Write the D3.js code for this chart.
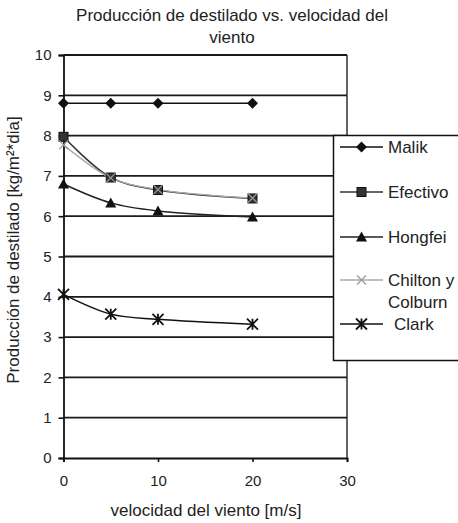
<!DOCTYPE html>
<html>
<head>
<meta charset="utf-8">
<script src="https://cdn.jsdelivr.net/npm/d3@7"></script>
<style>
  body { margin: 0; background: #fff; }
  svg { display: block; font-family: "Liberation Sans", Arial, sans-serif; }
</style>
</head>
<body>
<svg id="chart" width="458" height="523"></svg>
<script>
// Wind speed [m/s]
const velocidad = [0, 5, 10, 20];
// Distillate production [kg/m²*dia] per model
const malik = [8.8, 8.8, 8.8, 8.8];
const efectivo = [7.97, 6.96, 6.65, 6.44];
const hongfei = [6.8, 6.33, 6.13, 5.98];
const chilton = [7.77, 6.95, 6.66, 6.45];
const clark = [4.06, 3.57, 3.44, 3.32];

const xTicks = [0, 10, 20, 30];
const yTicks = [0, 1, 2, 3, 4, 5, 6, 7, 8, 9, 10];

const seriesNames = ["Malik", "Efectivo", "Hongfei", "Chilton y Colburn", "Clark"];
const seriesValues = [malik, efectivo, hongfei, chilton, clark];

const styles = {
  "Malik": { stroke: "#111", marker: "diamond", fill: "#111" },
  "Efectivo": { stroke: "#333", marker: "square", fill: "#333" },
  "Hongfei": { stroke: "#222", marker: "triangle", fill: "#111" },
  "Chilton y Colburn": { stroke: "#aaa", marker: "cross", fill: "#999" },
  "Clark": { stroke: "#111", marker: "asterisk", fill: "#111" }
};

const svg = d3.select("#chart");
const x = d3.scaleLinear().domain([0, 30]).range([63.5, 347]);
const y = d3.scaleLinear().domain([0, 10]).range([458, 55]);

// Horizontal gridlines
svg.append("g").selectAll("line").data(yTicks.filter(d => d > 0)).join("line")
  .attr("x1", x(0)).attr("x2", x(30))
  .attr("y1", d => y(d)).attr("y2", d => y(d))
  .attr("stroke", "#1a1a1a").attr("stroke-width", 1.8);

// Axes
const yAxis = d3.axisLeft(y).tickValues(yTicks).tickSize(5).tickPadding(7);
const gy = svg.append("g").attr("transform", `translate(${x(0)},0)`).call(yAxis);
const xAxis = d3.axisBottom(x).tickValues(xTicks).tickSize(4).tickPadding(13);
const gx = svg.append("g").attr("transform", `translate(0,${y(0)})`).call(xAxis);
[gx, gy].forEach(g => {
  g.select(".domain").attr("stroke", "#111").attr("stroke-width", 1.8);
  g.selectAll(".tick line").attr("stroke", "#111").attr("stroke-width", 1.6);
  g.selectAll("text").attr("fill", "#222").style("font-size", "15px")
    .style("font-family", '"Liberation Sans", Arial, sans-serif');
});
// Right border of plot area
svg.append("line").attr("x1", x(30)).attr("x2", x(30)).attr("y1", y(10)).attr("y2", y(0))
  .attr("stroke", "#222").attr("stroke-width", 1.4);

// Marker shapes
function drawMarker(g, type, cx, cy, st, scale = 1) {
  const s = scale;
  if (type === "diamond") {
    g.append("path").attr("d", `M${cx},${cy - 5.5 * s}L${cx + 5.5 * s},${cy}L${cx},${cy + 5.5 * s}L${cx - 5.5 * s},${cy}Z`)
      .attr("fill", st.fill);
  } else if (type === "square") {
    g.append("rect").attr("x", cx - 4.5 * s).attr("y", cy - 4.5 * s)
      .attr("width", 9 * s).attr("height", 9 * s).attr("fill", st.fill).attr("stroke", "#111").attr("stroke-width", 1);
  } else if (type === "triangle") {
    g.append("path").attr("d", `M${cx},${cy - 5.5 * s}L${cx + 5.5 * s},${cy + 4.5 * s}L${cx - 5.5 * s},${cy + 4.5 * s}Z`)
      .attr("fill", st.fill);
  } else if (type === "cross") {
    g.append("path").attr("d", `M${cx - 4.5 * s},${cy - 4.5 * s}L${cx + 4.5 * s},${cy + 4.5 * s}M${cx + 4.5 * s},${cy - 4.5 * s}L${cx - 4.5 * s},${cy + 4.5 * s}`)
      .attr("stroke", st.fill).attr("stroke-width", 1.3);
  } else if (type === "asterisk") {
    const r = 5.5 * s;
    g.append("path").attr("d", `M${cx - r},${cy - r}L${cx + r},${cy + r}M${cx + r},${cy - r}L${cx - r},${cy + r}M${cx},${cy - r}L${cx},${cy + r}`)
      .attr("stroke", st.fill).attr("stroke-width", 1.8);
  }
}

// Smoothed series lines and markers
const line = d3.line().x(d => x(d[0])).y(d => y(d[1])).curve(d3.curveCatmullRom.alpha(0.5));
const plot = svg.append("g");
seriesNames.forEach((name, i) => {
  const pts = velocidad.map((v, j) => [v, seriesValues[i][j]]);
  const st = styles[name];
  plot.append("path").datum(pts).attr("d", line)
    .attr("fill", "none").attr("stroke", st.stroke).attr("stroke-width", name === "Chilton y Colburn" ? 1.4 : 1.5);
});
seriesNames.forEach((name, i) => {
  const st = styles[name];
  const g = plot.append("g");
  velocidad.forEach((v, j) => drawMarker(g, st.marker, x(v), y(seriesValues[i][j]), st));
});

// Legend
const legend = svg.append("g");
legend.append("rect").attr("x", 333.5).attr("y", 135.5).attr("width", 140).attr("height", 225)
  .attr("fill", "#fff").attr("stroke", "#111").attr("stroke-width", 1.5);
const legendRows = [
  { name: "Malik", y: 147, lines: ["Malik"] },
  { name: "Efectivo", y: 192, lines: ["Efectivo"] },
  { name: "Hongfei", y: 237, lines: ["Hongfei"] },
  { name: "Chilton y Colburn", y: 280, lines: ["Chilton y", "Colburn"] },
  { name: "Clark", y: 324, lines: ["Clark"] }
];
legendRows.forEach(r => {
  const st = styles[r.name];
  const tx = r.name === "Clark" ? 394 : 388;
  legend.append("line").attr("x1", 340).attr("x2", 383).attr("y1", r.y).attr("y2", r.y)
    .attr("stroke", st.stroke).attr("stroke-width", 1.5);
  drawMarker(legend, st.marker, 361.5, r.y, st);
  const t = legend.append("text").attr("x", tx).attr("y", r.y + 6)
    .attr("fill", "#222").style("font-size", "17px");
  r.lines.forEach((l, k) => t.append("tspan").attr("x", tx).attr("dy", k === 0 ? 0 : 22).text(l));
});

// Titles
const title = svg.append("text").attr("text-anchor", "middle").attr("fill", "#222").style("font-size", "17px");
title.append("tspan").attr("x", 232).attr("y", 21).text("Producción de destilado vs. velocidad del");
title.append("tspan").attr("x", 232).attr("y", 43).text("viento");

svg.append("text").attr("x", 206).attr("y", 516).attr("text-anchor", "middle")
  .attr("fill", "#222").style("font-size", "17px").text("velocidad del viento [m/s]");

svg.append("text").attr("transform", "translate(19,250) rotate(-90)").attr("text-anchor", "middle")
  .attr("fill", "#222").style("font-size", "17px").text("Producción de destilado [kg/m²*dia]");
</script>
</body>
</html>
